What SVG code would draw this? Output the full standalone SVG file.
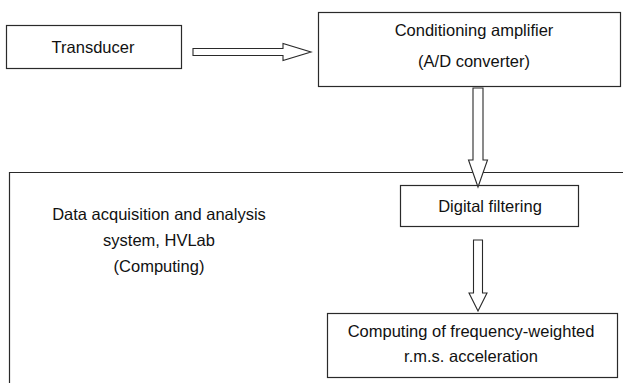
<svg xmlns="http://www.w3.org/2000/svg" width="623" height="383" viewBox="0 0 623 383">
<style>
.box{fill:#fff;stroke:#2a2a2a;stroke-width:1.2}
.arrow{fill:#fff;stroke:#2a2a2a;stroke-width:1.1;stroke-linejoin:miter}
text{font-family:"Liberation Sans",Arial,sans-serif;font-size:16.5px;fill:#111;text-anchor:middle}
</style>
<rect width="623" height="383" fill="#fff"/>
<g id="system">
<path class="box" d="M9.5,383 V172.5 H623" fill="none"/>
<text x="159" y="220">Data acquisition and analysis</text>
<text x="159" y="246">system, HVLab</text>
<text x="159" y="272">(Computing)</text>
</g>
<g id="transducer">
<rect class="box" x="6.5" y="25.5" width="175" height="43"/>
<text x="93" y="52.5">Transducer</text>
</g>
<g id="conditioning">
<rect class="box" x="318.5" y="12.5" width="302" height="74"/>
<text x="474" y="36">Conditioning amplifier</text>
<text x="474" y="67">(A/D converter)</text>
</g>
<g id="digital">
<rect class="box" x="400.5" y="185.5" width="178" height="41"/>
<text x="490" y="211.5">Digital filtering</text>
</g>
<g id="computing">
<rect class="box" x="327.5" y="313.5" width="290" height="64"/>
<text x="471" y="337">Computing of frequency-weighted</text>
<text x="471" y="362">r.m.s. acceleration</text>
</g>
<g id="connectors">
<path class="arrow" d="M193,48.5 H283 V43.5 L311,52 L283,60.5 V55.5 H193 Z"/>
<path class="arrow" d="M473,88 H483 V160 H487.5 L478,187 L468.5,160 H473 Z"/>
<path class="arrow" d="M473.5,240 H482.5 V293 H487 L478,311 L469,293 H473.5 Z"/>
</g>
</svg>
